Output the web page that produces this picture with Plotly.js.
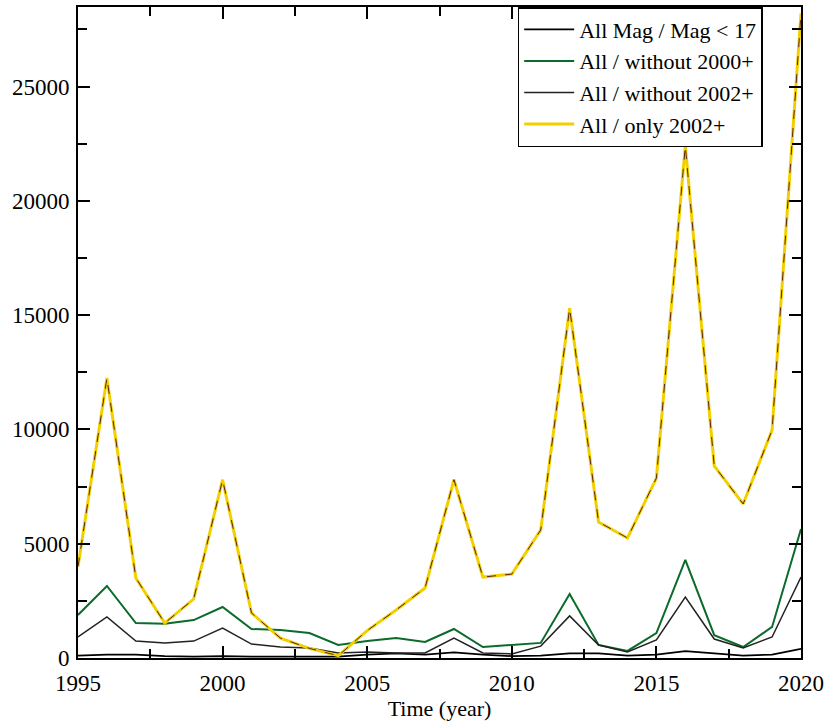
<!DOCTYPE html>
<html><head><meta charset="utf-8">
<script src="https://cdn.plot.ly/plotly-3.0.1.min.js"></script>
<style>body{margin:0;background:#fff}#c{width:828px;height:725px}</style>
</head><body><div id="c"></div>
<script>
const years = [1995,1996,1997,1998,1999,2000,2001,2002,2003,2004,2005,2006,2007,2008,2009,2010,2011,2012,2013,2014,2015,2016,2017,2018,2019,2020];
const allMag17 = [100,150,150,80,60,80,60,60,50,60,150,200,150,250,150,80,100,200,200,100,150,300,200,100,150,400];
const without2000 = [1880,3150,1530,1500,1660,2230,1270,1220,1090,570,740,870,700,1270,480,570,660,2800,570,310,1090,4290,1000,480,1360,5640];
const without2002 = [920,1800,740,660,740,1310,610,480,440,220,260,220,220,870,220,180,520,1840,570,260,790,2670,830,440,920,3540];
const only2002 = [4000,12250,3500,1530,2580,7800,1970,870,420,100,1200,2100,3060,7800,3540,3670,5600,15300,5950,5250,7870,22400,8400,6740,9970,28200];
const names = ['All Mag / Mag < 17','All / without 2000+','All / without 2002+','All / only 2002+'];

const SERIF = "'Liberation Serif', 'DejaVu Serif', serif";
const traces = [
  {x: years, y: allMag17, name: names[0], mode:'lines', line:{color:'#000', width:1.8}},
  {x: years, y: without2000, name: names[1], mode:'lines', line:{color:'#0a6b2a', width:2}},
  {x: years, y: without2002, name: names[2], mode:'lines', line:{color:'#222', width:1.5}},
  {x: years, y: only2002, name: names[3], mode:'lines', line:{color:'#f2d000', width:3}, legendgroup:'o'},
  {x: years, y: only2002, name: names[3], mode:'lines', line:{color:'#5a2a10', width:1, dash:'dash'}, legendgroup:'o', showlegend:false}
];
const axisCommon = {
  showgrid:false, zeroline:false, showline:true, linecolor:'#000', linewidth:2,
  mirror:'ticks', ticks:'inside', ticklen:12, tickwidth:1.5, tickcolor:'#000',
  tickfont:{family:SERIF, size:23, color:'#000'}
};
const layout = {
  width:828, height:725,
  margin:{l:78, r:27, t:7, b:67},
  paper_bgcolor:'#fff', plot_bgcolor:'#fff',
  font:{family:SERIF, color:'#000'},
  showlegend:true,
  legend:{x:0.947, y:1, xanchor:'right', yanchor:'top', bgcolor:'#fff', bordercolor:'#000', borderwidth:1.5,
    font:{family:SERIF, size:22, color:'#000'}, tracegroupgap:0, itemwidth:50},
  xaxis: Object.assign({}, axisCommon, {range:[1995,2020], dtick:5, tick0:1995, ticklabelstandoff:3,
    minor:{dtick:2.5, ticks:'inside', ticklen:9, tickcolor:'#000', tickwidth:1.5},
    title:{text:'Time (year)', standoff:0, font:{family:SERIF, size:22, color:'#000'}}}),
  yaxis: Object.assign({}, axisCommon, {range:[0,28480], dtick:5000, ticklabelstandoff:2,
    minor:{dtick:2500, ticks:'inside', ticklen:9, tickcolor:'#000', tickwidth:1.5}, tickformat:'d'})
};
Plotly.newPlot('c', traces, layout, {displayModeBar:false});
</script></body></html>
